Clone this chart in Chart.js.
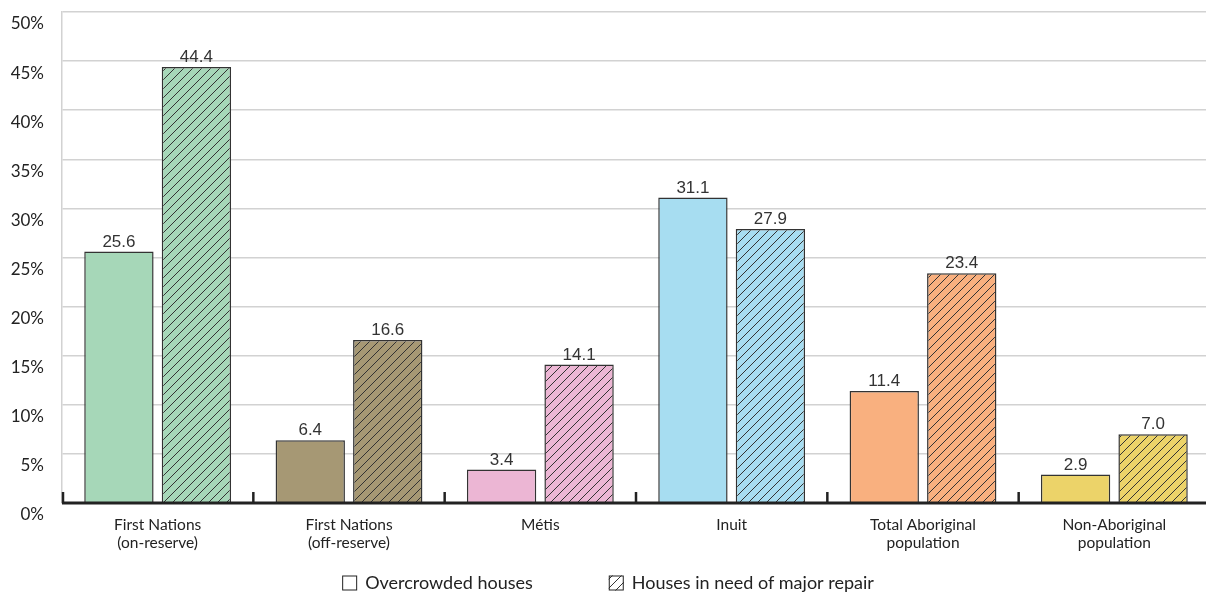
<!DOCTYPE html>
<html>
<head>
<meta charset="utf-8">
<script src="https://cdn.jsdelivr.net/npm/chart.js@4/dist/chart.umd.min.js"></script>
<style>
  html, body { margin: 0; padding: 0; background: #fff; overflow: hidden; }
  #wrap { position: relative; width: 1210px; height: 595px; }
</style>
</head>
<body>
<div id="wrap"><canvas id="c"></canvas></div>
<script>
const categories = [
  ["First Nations", "(on-reserve)"],
  ["First Nations", "(off-reserve)"],
  ["Métis"],
  ["Inuit"],
  ["Total Aboriginal", "population"],
  ["Non-Aboriginal", "population"]
];
const seriesNames = ["Overcrowded houses", "Houses in need of major repair"];
const overcrowded = [25.6, 6.4, 3.4, 31.1, 11.4, 2.9];
const majorRepair = [44.4, 16.6, 14.1, 27.9, 23.4, 7.0];
const categoryColors = ["#a6d7b8", "#a69874", "#ecb6d4", "#a7ddf1", "#f9b07f", "#ecd369"];
const yTicks = [0, 5, 10, 15, 20, 25, 30, 35, 40, 45, 50];

const FONT = 'Lato, "Open Sans", sans-serif';

function hatch(color) {
  const s = 9;
  const c = document.createElement('canvas');
  c.width = s; c.height = s;
  const x = c.getContext('2d');
  x.fillStyle = color;
  x.fillRect(0, 0, s, s);
  x.strokeStyle = '#333';
  x.lineWidth = 1;
  x.beginPath();
  x.moveTo(0, s); x.lineTo(s, 0);
  x.moveTo(-2, 2); x.lineTo(2, -2);
  x.moveTo(s - 2, s + 2); x.lineTo(s + 2, s - 2);
  x.stroke();
  return x.createPattern(c, 'repeat');
}

const valueLabels = {
  id: 'valueLabels',
  afterDatasetsDraw(chart) {
    const ctx = chart.ctx;
    ctx.save();
    ctx.font = '17px "Liberation Sans", Arial, sans-serif';
    ctx.fillStyle = '#333';
    ctx.textAlign = 'center';
    ctx.textBaseline = 'alphabetic';
    chart.data.datasets.forEach((ds, di) => {
      const meta = chart.getDatasetMeta(di);
      meta.data.forEach((bar, i) => {
        ctx.fillText(ds.data[i].toFixed(1), bar.x, bar.y - 5);
      });
    });
    ctx.restore();
  }
};

const axisTicks = {
  id: 'axisTicks',
  afterDatasetsDraw(chart) {
    const xs = chart.scales.x;
    const ctx = chart.ctx;
    const bottom = chart.chartArea.bottom;
    ctx.save();
    ctx.strokeStyle = '#222';
    ctx.lineWidth = 3;
    ctx.beginPath();
    ctx.moveTo(chart.chartArea.left, bottom);
    ctx.lineTo(chart.chartArea.right, bottom);
    ctx.stroke();
    ctx.lineWidth = 2.5;
    const n = categories.length;
    const half = (xs.getPixelForValue(1) - xs.getPixelForValue(0)) / 2;
    for (let i = 0; i < n; i++) {
      const px = xs.getPixelForValue(i) - half + (i === 0 ? 1 : 0);
      ctx.beginPath();
      ctx.moveTo(px, bottom);
      ctx.lineTo(px, bottom - 11);
      ctx.stroke();
    }
    ctx.restore();
  }
};

const customLegend = {
  id: 'customLegend',
  afterDraw(chart) {
    const ctx = chart.ctx;
    ctx.save();
    ctx.font = '18px ' + FONT;
    const w1 = ctx.measureText(seriesNames[0]).width;
    const w2 = ctx.measureText(seriesNames[1]).width;
    const box = 15, gapText = 8, gapItems = 76;
    const total = box + gapText + w1 + gapItems + box + gapText + w2;
    let x = 608 - total / 2;
    const cy = 583;
    const fills = ['#fff', hatch('#fff')];
    for (let i = 0; i < 2; i++) {
      ctx.fillStyle = fills[i];
      ctx.fillRect(x, cy - box / 2, box, box);
      ctx.strokeStyle = '#222';
      ctx.lineWidth = 1;
      ctx.strokeRect(x + 0.5, cy - box / 2 + 0.5, box - 1, box - 1);
      x += box + gapText;
      ctx.fillStyle = '#222';
      ctx.textAlign = 'left';
      ctx.textBaseline = 'middle';
      ctx.fillText(seriesNames[i], x, cy);
      x += (i === 0 ? w1 : w2) + gapItems;
    }
    ctx.restore();
  }
};

new Chart(document.getElementById('c'), {
  type: 'bar',
  data: {
    labels: categories,
    datasets: [
      {
        label: seriesNames[0],
        data: overcrowded,
        backgroundColor: categoryColors,
        borderColor: '#333',
        borderWidth: 1.5,
        categoryPercentage: 0.81,
        barPercentage: 0.895
      },
      {
        label: seriesNames[1],
        data: majorRepair,
        backgroundColor: categoryColors.map(hatch),
        borderColor: '#333',
        borderWidth: 1.5,
        categoryPercentage: 0.81,
        barPercentage: 0.895
      }
    ]
  },
  options: {
    responsive: true,
    maintainAspectRatio: false,
    animation: false,
    layout: { padding: { top: 12, right: 0, left: 0, bottom: 34 } },
    plugins: {
      tooltip: { enabled: false },
      legend: { display: false }
    },
    scales: {
      x: {
        grid: { display: false, drawTicks: false },
        border: { display: false },
        ticks: {
          font: { family: FONT, size: 15.5, lineHeight: 1.15 },
          color: '#222',
          padding: 13,
          maxRotation: 0,
          autoSkip: false
        },
        afterFit(scale) { scale.height = 58; scale.paddingLeft = 0; scale.paddingRight = 0; }
      },
      y: {
        min: 0,
        max: 50,
        afterBuildTicks(scale) { scale.ticks = yTicks.map(v => ({ value: v })); },
        grid: { color: '#d2d2d2', lineWidth: 1.5, drawTicks: false },
        border: { display: true, color: '#d2d2d2', width: 1.5 },
        ticks: {
          font: { family: FONT, size: 17 },
          color: '#222',
          padding: 18,
          labelOffset: 12,
          callback: v => v + '%'
        },
        afterFit(scale) { scale.width = 62; scale.paddingTop = 0; scale.paddingBottom = 0; }
      }
    }
  },
  plugins: [valueLabels, axisTicks, customLegend]
});
</script>
</body>
</html>
